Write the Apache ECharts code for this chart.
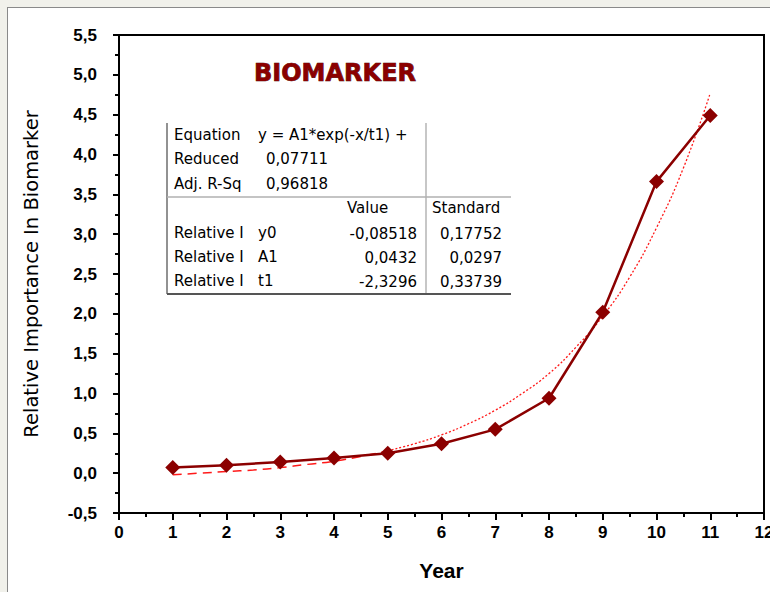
<!DOCTYPE html>
<html>
<head>
<meta charset="utf-8">
<script src="https://cdn.jsdelivr.net/npm/echarts@6/dist/echarts.min.js"></script>
<style>
  html, body { margin: 0; padding: 0; background: #f1f1eb; }
  .panel {
    position: absolute;
    left: 7px;
    top: 7px;
    width: 770px;
    height: 592px;
    background: #ffffff;
    border-left: 1px solid #8a8a8a;
    border-top: 1px solid #8a8a8a;
  }
  #chart {
    position: absolute;
    left: 0;
    top: 0;
    width: 770px;
    height: 592px;
  }
</style>
</head>
<body>
<div class="panel"></div>
<div id="chart"></div>
<script>
// measured points
const years = [1, 2, 3, 4, 5, 6, 7, 8, 9, 10, 11];
const importance = [0.07, 0.1, 0.14, 0.19, 0.25, 0.37, 0.55, 0.94, 2.02, 3.66, 4.49];

// fitted curve (dashed part, then dotted part)
const fitLowX = [1, 1.5, 2, 2.5, 3, 3.5, 4, 4.5, 5];
const fitLowY = [-0.02, 0.0, 0.02, 0.04, 0.07, 0.11, 0.15, 0.21, 0.28];
const fitHighX = [5, 5.5, 6, 6.5, 7, 7.5, 8, 8.5, 9, 9.5, 10, 10.5, 11];
const fitHighY = [0.28, 0.37, 0.48, 0.62, 0.79, 1.0, 1.25, 1.58, 1.97, 2.46, 3.08, 3.83, 4.77];

// fit statistics table
const eqLabels = ["Equation", "Reduced", "Adj. R-Sq"];
const eqValues = ["y = A1*exp(-x/t1) +", "0,07711", "0,96818"];
const paramNames = ["y0", "A1", "t1"];
const paramValues = ["-0,08518", "0,0432", "-2,3296"];
const paramErrors = ["0,17752", "0,0297", "0,33739"];

const titleText = "BIOMARKER";
const xName = "Year";
const yName = "Relative Importance In Biomarker";

const darkRed = "#8b0000";
const tickFont = "'Liberation Sans', Arial, sans-serif";
const tableFont = "15px 'DejaVu Sans', sans-serif";

const chart = echarts.init(document.getElementById("chart"), null, { renderer: "svg" });

// table graphic elements
const tableItems = [];
const rowY = [136, 160, 185];
eqLabels.forEach((t, i) => {
  tableItems.push({ type: "text", left: 174, top: rowY[i] - 9, style: { text: t, font: tableFont, fill: "#000" } });
  tableItems.push({ type: "text", left: i === 0 ? 258 : 266, top: rowY[i] - 9, style: { text: eqValues[i], font: tableFont, fill: "#000" } });
});
tableItems.push({ type: "text", left: 347, top: 200, style: { text: "Value", font: tableFont, fill: "#000" } });
tableItems.push({ type: "text", left: 432, top: 200, style: { text: "Standard", font: tableFont, fill: "#000" } });
const pRowY = [234, 258, 282];
paramNames.forEach((p, i) => {
  tableItems.push({ type: "text", left: 174, top: pRowY[i] - 9, style: { text: "Relative I", font: tableFont, fill: "#000" } });
  tableItems.push({ type: "text", left: 258, top: pRowY[i] - 9, style: { text: p, font: tableFont, fill: "#000" } });
  tableItems.push({ type: "text", x: 417, y: pRowY[i], style: { text: paramValues[i], font: tableFont, fill: "#000", align: "right", verticalAlign: "middle" } });
  tableItems.push({ type: "text", x: 502, y: pRowY[i], style: { text: paramErrors[i], font: tableFont, fill: "#000", align: "right", verticalAlign: "middle" } });
});
tableItems.push({ type: "line", shape: { x1: 167, y1: 123, x2: 167, y2: 294 }, style: { stroke: "#6e6e6e", lineWidth: 1.5 } });
tableItems.push({ type: "line", shape: { x1: 426, y1: 123, x2: 426, y2: 294 }, style: { stroke: "#b5b5b5", lineWidth: 1.5 } });
tableItems.push({ type: "line", shape: { x1: 167, y1: 197, x2: 511, y2: 197 }, style: { stroke: "#b0b0b0", lineWidth: 1.5 } });
tableItems.push({ type: "line", shape: { x1: 167, y1: 294, x2: 511, y2: 294 }, style: { stroke: "#555", lineWidth: 2 } });

const option = {
  animation: false,
  grid: {
    left: 119,
    top: 35,
    right: 6,
    bottom: 79,
    outerBoundsMode: "none",
    containLabel: false,
    show: true,
    backgroundColor: "#ffffff",
    borderColor: "#000",
    borderWidth: 2
  },
  graphic: [
    {
      type: "text",
      x: 335,
      y: 73,
      style: {
        text: titleText,
        font: "bold 24px 'DejaVu Sans', sans-serif",
        fill: darkRed,
        stroke: "#3a0000",
        lineWidth: 0.7,
        align: "center",
        verticalAlign: "middle"
      }
    }
  ].concat(tableItems),
  xAxis: {
    type: "value",
    min: 0,
    max: 12,
    interval: 1,
    name: xName,
    nameLocation: "middle",
    nameGap: 47,
    nameTextStyle: { fontFamily: "'Liberation Sans', Arial, sans-serif", fontWeight: "bold", fontSize: 21, color: "#000" },
    axisLine: { onZero: false, lineStyle: { color: "#000", width: 2 } },
    axisTick: { inside: false, length: 7, lineStyle: { color: "#000", width: 2 } },
    minorTick: { show: true, splitNumber: 2, length: 4, lineStyle: { color: "#000", width: 2 } },
    axisLabel: { margin: 11, fontFamily: tickFont, fontWeight: "bold", fontSize: 17, color: "#000" },
    splitLine: { show: false }
  },
  yAxis: {
    type: "value",
    min: -0.5,
    max: 5.5,
    interval: 0.5,
    name: yName,
    nameLocation: "middle",
    nameGap: 78,
    nameRotate: 90,
    nameTextStyle: { fontFamily: "'DejaVu Sans', sans-serif", fontSize: 19.5, color: "#000" },
    axisLine: { onZero: false, lineStyle: { color: "#000", width: 2 } },
    axisTick: { inside: false, length: 6, lineStyle: { color: "#000", width: 2 } },
    minorTick: { show: true, splitNumber: 2, length: 4, lineStyle: { color: "#000", width: 2 } },
    axisLabel: {
      margin: 22,
      fontFamily: tickFont,
      fontWeight: "bold",
      fontSize: 17,
      color: "#000",
      formatter: v => v.toFixed(1).replace(".", ",")
    },
    splitLine: { show: false }
  },
  series: [
    {
      type: "line",
      data: fitLowX.map((x, i) => [x, fitLowY[i]]),
      smooth: true,
      symbol: "none",
      lineStyle: { color: "#ff1a1a", width: 1.5, type: [9, 6] },
      z: 2
    },
    {
      type: "line",
      data: fitHighX.map((x, i) => [x, fitHighY[i]]),
      smooth: true,
      symbol: "none",
      lineStyle: { color: "#ff1a1a", width: 1.3, type: [2, 2] },
      z: 2
    },
    {
      type: "line",
      data: years.map((x, i) => [x, importance[i]]),
      symbol: "diamond",
      symbolSize: 15,
      itemStyle: { color: darkRed },
      lineStyle: { color: darkRed, width: 2.5 },
      z: 3
    }
  ]
};

chart.setOption(option);
</script>
</body>
</html>
